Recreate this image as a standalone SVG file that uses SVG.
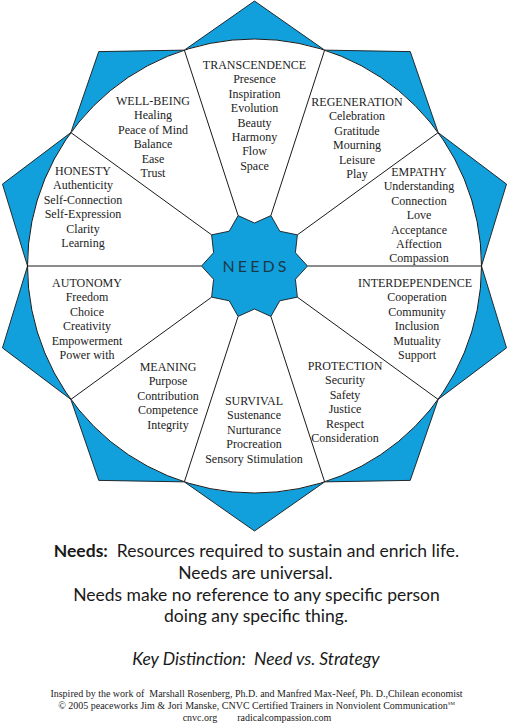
<svg xmlns="http://www.w3.org/2000/svg" width="508" height="727" viewBox="0 0 508 727">
<style>
.bg{fill:#ffffff}
.star{fill:#12a0dc;stroke:#1a1a1a;stroke-width:0.9;stroke-linejoin:miter}
.circ{fill:#ffffff;stroke:#1a1a1a;stroke-width:1}
.div{stroke:#1a1a1a;stroke-width:1;fill:none}
.lbl{font-family:"Liberation Serif","Times New Roman",serif;font-size:12px;fill:#222;text-anchor:middle}
.needs{font-family:"Lato","Open Sans",sans-serif;font-size:16px;fill:#1b3a48;text-anchor:middle}
.foot{font-family:"Lato","Open Sans",sans-serif;font-size:17.5px;fill:#1a1a1a;text-anchor:middle}
.small{font-family:"Liberation Serif","Times New Roman",serif;font-size:10px;fill:#222;text-anchor:middle}
</style>
<rect class="bg" x="0" y="0" width="508" height="727"/>
<g id="outer-star">
<polygon class="star" points="481.5,266 506.53,184.11 438.15,132.57 410.26,51.61 324.65,50.11 254.5,1 184.35,50.11 98.74,51.61 70.85,132.57 2.47,184.11 27.5,266 2.47,347.89 70.85,399.43 98.74,480.39 184.35,481.89 254.5,531 324.65,481.89 410.26,480.39 438.15,399.43 506.53,347.89"/>
<circle class="circ" cx="254.5" cy="266" r="227"/>
</g>
<g id="connectors">
<line class="div" x1="307.5" y1="266" x2="481.5" y2="266"/>
<line class="div" x1="297.38" y1="234.85" x2="438.15" y2="132.57"/>
<line class="div" x1="270.88" y1="215.59" x2="324.65" y2="50.11"/>
<line class="div" x1="238.12" y1="215.59" x2="184.35" y2="50.11"/>
<line class="div" x1="211.62" y1="234.85" x2="70.85" y2="132.57"/>
<line class="div" x1="201.5" y1="266" x2="27.5" y2="266"/>
<line class="div" x1="211.62" y1="297.15" x2="70.85" y2="399.43"/>
<line class="div" x1="238.12" y1="316.41" x2="184.35" y2="481.89"/>
<line class="div" x1="270.88" y1="316.41" x2="324.65" y2="481.89"/>
<line class="div" x1="297.38" y1="297.15" x2="438.15" y2="399.43"/>
</g>
<g id="needs">
<polygon class="star" points="307.5,266 295.4,252.71 297.38,234.85 279.77,231.21 270.88,215.59 254.5,223 238.12,215.59 229.23,231.21 211.62,234.85 213.6,252.71 201.5,266 213.6,279.29 211.62,297.15 229.23,300.79 238.12,316.41 254.5,309 270.88,316.41 279.77,300.79 297.38,297.15 295.4,279.29"/>
<text class="needs" x="254.5" y="272" textLength="64" lengthAdjust="spacing">NEEDS</text>
</g>
<g id="transcendence">
<text class="lbl" x="254.5" y="69">TRANSCENDENCE</text>
<text class="lbl" x="254.5" y="83.4">Presence</text>
<text class="lbl" x="254.5" y="97.8">Inspiration</text>
<text class="lbl" x="254.5" y="112.2">Evolution</text>
<text class="lbl" x="254.5" y="126.6">Beauty</text>
<text class="lbl" x="254.5" y="141">Harmony</text>
<text class="lbl" x="254.5" y="155.4">Flow</text>
<text class="lbl" x="254.5" y="169.8">Space</text>
</g>
<g id="regeneration">
<text class="lbl" x="357" y="106">REGENERATION</text>
<text class="lbl" x="357" y="120.4">Celebration</text>
<text class="lbl" x="357" y="134.8">Gratitude</text>
<text class="lbl" x="357" y="149.2">Mourning</text>
<text class="lbl" x="357" y="163.6">Leisure</text>
<text class="lbl" x="357" y="178">Play</text>
</g>
<g id="empathy">
<text class="lbl" x="419" y="176">EMPATHY</text>
<text class="lbl" x="419" y="190.4">Understanding</text>
<text class="lbl" x="419" y="204.8">Connection</text>
<text class="lbl" x="419" y="219.2">Love</text>
<text class="lbl" x="419" y="233.6">Acceptance</text>
<text class="lbl" x="419" y="248">Affection</text>
<text class="lbl" x="419" y="262.4">Compassion</text>
</g>
<g id="interdependence">
<text class="lbl" x="415" y="287">INTERDEPENDENCE</text>
<text class="lbl" x="417" y="301.4">Cooperation</text>
<text class="lbl" x="417" y="315.8">Community</text>
<text class="lbl" x="417" y="330.2">Inclusion</text>
<text class="lbl" x="417" y="344.6">Mutuality</text>
<text class="lbl" x="417" y="359">Support</text>
</g>
<g id="protection">
<text class="lbl" x="345" y="370">PROTECTION</text>
<text class="lbl" x="345" y="384.4">Security</text>
<text class="lbl" x="345" y="398.8">Safety</text>
<text class="lbl" x="345" y="413.2">Justice</text>
<text class="lbl" x="345" y="427.6">Respect</text>
<text class="lbl" x="345" y="442">Consideration</text>
</g>
<g id="survival">
<text class="lbl" x="254" y="405">SURVIVAL</text>
<text class="lbl" x="254" y="419.4">Sustenance</text>
<text class="lbl" x="254" y="433.8">Nurturance</text>
<text class="lbl" x="254" y="448.2">Procreation</text>
<text class="lbl" x="254" y="462.6">Sensory Stimulation</text>
</g>
<g id="meaning">
<text class="lbl" x="168" y="371">MEANING</text>
<text class="lbl" x="168" y="385.4">Purpose</text>
<text class="lbl" x="168" y="399.8">Contribution</text>
<text class="lbl" x="168" y="414.2">Competence</text>
<text class="lbl" x="168" y="428.6">Integrity</text>
</g>
<g id="autonomy">
<text class="lbl" x="87" y="287">AUTONOMY</text>
<text class="lbl" x="87" y="301.4">Freedom</text>
<text class="lbl" x="87" y="315.8">Choice</text>
<text class="lbl" x="87" y="330.2">Creativity</text>
<text class="lbl" x="87" y="344.6">Empowerment</text>
<text class="lbl" x="87" y="359">Power with</text>
</g>
<g id="honesty">
<text class="lbl" x="83" y="175">HONESTY</text>
<text class="lbl" x="83" y="189.4">Authenticity</text>
<text class="lbl" x="83" y="203.8">Self-Connection</text>
<text class="lbl" x="83" y="218.2">Self-Expression</text>
<text class="lbl" x="83" y="232.6">Clarity</text>
<text class="lbl" x="83" y="247">Learning</text>
</g>
<g id="well-being">
<text class="lbl" x="153" y="105">WELL-BEING</text>
<text class="lbl" x="153" y="119.4">Healing</text>
<text class="lbl" x="153" y="133.8">Peace of Mind</text>
<text class="lbl" x="153" y="148.2">Balance</text>
<text class="lbl" x="153" y="162.6">Ease</text>
<text class="lbl" x="153" y="177">Trust</text>
</g>
<g id="definition">
<text class="foot" x="256.5" y="557" xml:space="preserve"><tspan font-weight="bold">Needs:</tspan>  Resources required to sustain and enrich life.</text>
<text class="foot" x="255.5" y="579">Needs are universal.</text>
<text class="foot" x="256.5" y="601">Needs make no reference to any specific person</text>
<text class="foot" x="256" y="622">doing any specific thing.</text>
<text class="foot" x="256" y="665" font-style="italic" font-size="18.5" xml:space="preserve">Key Distinction:  Need vs. Strategy</text>
</g>
<g id="credits">
<text class="small" x="256.5" y="697" xml:space="preserve">Inspired by the work of  Marshall Rosenberg, Ph.D. and Manfred Max-Neef, Ph. D.,Chilean economist</text>
<text class="small" x="256.5" y="708.5">© 2005 peaceworks Jim &amp; Jori Manske, CNVC Certified Trainers in Nonviolent Communication<tspan font-size="5" dy="-4">SM</tspan></text>
<text class="small" x="257" y="721" xml:space="preserve">cnvc.org        radicalcompassion.com</text>
</g>
</svg>
